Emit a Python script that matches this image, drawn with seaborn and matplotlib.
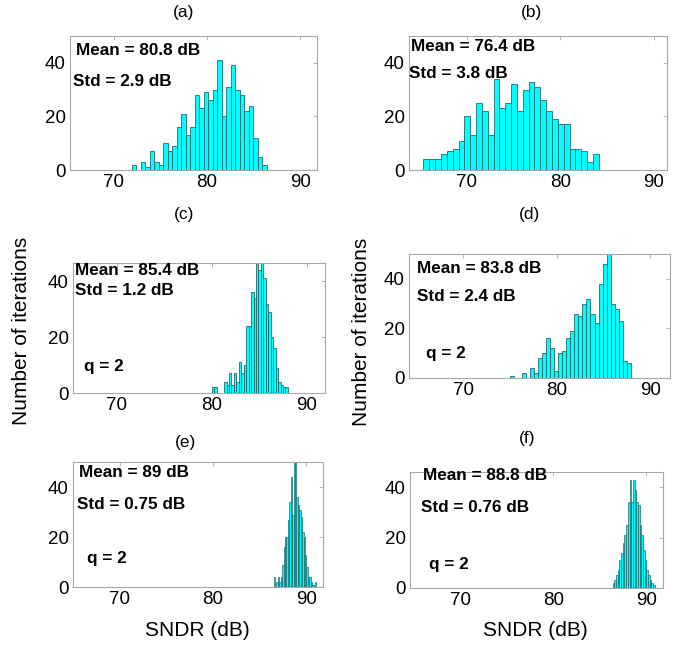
import numpy as np
import pandas as pd
import matplotlib
matplotlib.use("Agg")
import matplotlib.pyplot as plt
import seaborn as sns

sns.set_style("white")
plt.rcParams["font.family"] = ["Liberation Sans", "DejaVu Sans"]
plt.rcParams["text.color"] = "black"
plt.rcParams["axes.labelcolor"] = "black"
plt.rcParams["xtick.color"] = "black"
plt.rcParams["ytick.color"] = "black"

# Histogram counts per panel (equal-width bins spanning each range, in dB)
counts_a = [2, 0, 3, 1, 7, 3, 2, 10, 7, 9, 16, 21, 13, 16, 28, 23, 29, 26, 30, 41,
            20, 31, 39, 30, 28, 22, 24, 12, 5, 2]
range_a = (71.9, 86.4)

counts_b = [4, 4, 4, 6, 7, 8, 11, 20, 13, 25, 22, 13, 34, 23, 25, 32, 22, 30, 33, 31,
            26, 22, 19, 17, 17, 8, 8, 7, 3, 6]
range_b = (65.35, 84.1)

counts_c = [2, 2, 0, 0, 0, 4, 3, 7, 3, 7, 4, 11, 7, 10, 24, 24, 36, 34, 46, 44,
            52, 41, 32, 29, 20, 16, 9, 4, 3, 2, 2]
range_c = (80.0, 88.0)

counts_d = [1, 0, 0, 2, 0, 4, 2, 8, 10, 16, 12, 3, 10, 11, 16, 19, 26, 25, 30, 32,
            26, 22, 38, 46, 50, 30, 28, 23, 7, 6]
range_d = (75.0, 87.9)

counts_e = [4, 0, 2, 4, 2, 4, 9, 16, 20, 20, 27, 34, 44, 29, 50, 52, 36, 33, 31, 28,
            22, 20, 13, 8, 4, 4, 2, 1, 0, 2]
range_e = (86.5, 91.1)

counts_f = [2, 3, 5, 7, 11, 14, 18, 21, 25, 34, 43, 34, 43, 39, 34, 33, 25, 21, 15, 11,
            7, 5, 3, 2, 1]
range_f = (86.4, 90.9)

panel_labels = ["(a)", "(b)", "(c)", "(d)", "(e)", "(f)"]
mean_texts = ["Mean = 80.8 dB", "Mean = 76.4 dB", "Mean = 85.4 dB",
              "Mean = 83.8 dB", "Mean = 89 dB", "Mean = 88.8 dB"]
std_texts = ["Std = 2.9 dB", "Std = 3.8 dB", "Std = 1.2 dB",
             "Std = 2.4 dB", "Std = 0.75 dB", "Std = 0.76 dB"]
q_text = "q = 2"
x_ticks = [70, 80, 90]
y_ticks = [0, 20, 40]
ylabel_text = "Number of iterations"
xlabel_text = "SNDR (dB)"

W, H = 689, 648
fig = plt.figure(figsize=(W / 100, H / 100), dpi=100)


def px_axes(left, top, right, bottom):
    return fig.add_axes([left / W, 1 - bottom / H, (right - left) / W, (bottom - top) / H])


panels = [
    # counts, range, axes box (px), xlim, ylim, mean pos, std pos, q pos, edge width
    (counts_a, range_a, (70, 36, 317, 170), (65.3, 91.8), 50,
     (0.024, 0.89), (0.013, 0.66), None, 0.6),
    (counts_b, range_b, (409, 36, 667, 170), (63.8, 91.4), 50,
     (0.007, 0.92), (0.001, 0.72), None, 0.6),
    (counts_c, range_c, (73, 263, 325, 393), (65.4, 91.9), 46.5,
     (0.006, 0.944), (0.006, 0.786), (0.042, 0.204), 0.6),
    (counts_d, range_d, (409, 254, 670, 378), (64.2, 92.1), 50,
     (0.032, 0.887), (0.032, 0.658), (0.064, 0.196), 0.6),
    (counts_e, range_e, (73, 462, 323, 587), (65.0, 91.8), 50,
     (0.024, 0.916), (0.016, 0.662), (0.056, 0.228), 0.5),
    (counts_f, range_f, (410, 472, 663, 588), (64.6, 91.8), 46,
     (0.05, 0.97), (0.042, 0.695), (0.076, 0.2), 0.5),
]

title_pos = [(184, 13), (531, 13), (184, 215), (529, 215), (185, 442), (527, 438)]

spine_gray = "#a8a8a8"
for i, (counts, rng, box, xlim, ytop, mpos, spos, qpos, lw) in enumerate(panels):
    ax = px_axes(*box)
    edges = np.linspace(rng[0], rng[1], len(counts) + 1)
    df = pd.DataFrame({"sndr": (edges[:-1] + edges[1:]) / 2, "n": counts})
    sns.histplot(data=df, x="sndr", weights="n", bins=list(edges), ax=ax,
                 color="#00ffff", edgecolor="#256a6e", linewidth=lw, alpha=1.0)
    ax.set_xlim(*xlim)
    ax.set_ylim(0, ytop)
    ax.set_xticks(x_ticks)
    ax.set_yticks(y_ticks)
    ax.set_ylabel("")
    ax.set_xlabel("")
    ax.tick_params(direction="in", length=3, width=0.6, color=spine_gray,
                   labelsize=13.5, top=True, right=True, pad=3, labelcolor="black")
    for s in ax.spines.values():
        s.set_visible(True)
        s.set_color(spine_gray)
        s.set_linewidth(0.8)
    ax.text(mpos[0], mpos[1], mean_texts[i], transform=ax.transAxes, color="black",
            fontsize=12.3, fontweight="bold", va="center", ha="left")
    ax.text(spos[0], spos[1], std_texts[i], transform=ax.transAxes, color="black",
            fontsize=12.3, fontweight="bold", va="center", ha="left")
    if qpos is not None:
        ax.text(qpos[0], qpos[1], q_text, transform=ax.transAxes, color="black",
                fontsize=12.3, fontweight="bold", va="center", ha="left")
    tx, ty = title_pos[i]
    fig.text(tx / W, 1 - ty / H, panel_labels[i], ha="center", va="center",
             fontsize=12.5, color="black")

# Shared labels
fig.text(22 / W, 1 - 331 / H, ylabel_text, rotation=90, ha="center", va="center",
         fontsize=15, color="black")
fig.text(362 / W, 1 - 332 / H, ylabel_text, rotation=90, ha="center", va="center",
         fontsize=15, color="black")
fig.text(197 / W, 1 - 630 / H, xlabel_text, ha="center", va="center", fontsize=15,
         color="black")
fig.text(535 / W, 1 - 630 / H, xlabel_text, ha="center", va="center", fontsize=15,
         color="black")

fig.savefig("out.png", dpi=100)
